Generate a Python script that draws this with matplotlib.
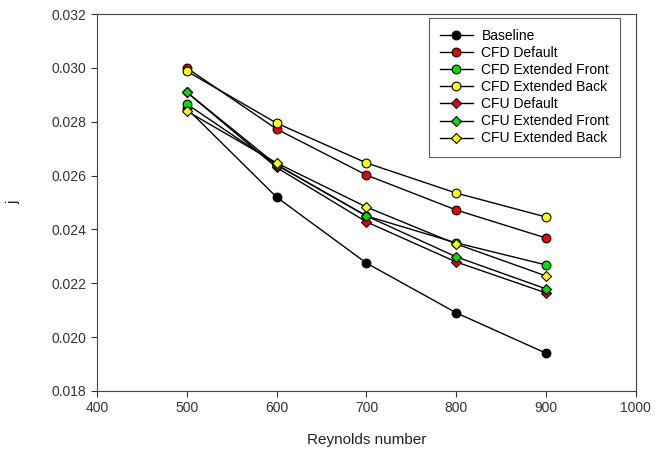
import matplotlib
matplotlib.use("Agg")
import matplotlib.pyplot as plt

plt.rcParams['font.family'] = ['Liberation Sans', 'DejaVu Sans']

reynolds = [500, 600, 700, 800, 900]

baseline = [0.0285, 0.0252, 0.02275, 0.0209, 0.0194]
cfd_default = [0.0300, 0.02773, 0.02602, 0.02472, 0.02368]
cfd_ext_front = [0.02866, 0.0264, 0.0245, 0.0235, 0.02268]
cfd_ext_back = [0.02988, 0.02795, 0.02647, 0.02535, 0.02446]
cfu_default = [0.0291, 0.0263, 0.02428, 0.02279, 0.02164]
cfu_ext_front = [0.0291, 0.0264, 0.0245, 0.02298, 0.02179]
cfu_ext_back = [0.0284, 0.02647, 0.02483, 0.02346, 0.02227]

labels = ["Baseline", "CFD Default", "CFD Extended Front", "CFD Extended Back",
          "CFU Default", "CFU Extended Front", "CFU Extended Back"]
series = [baseline, cfd_default, cfd_ext_front, cfd_ext_back,
          cfu_default, cfu_ext_front, cfu_ext_back]

# styles
colors = ["black", "#e8000b", "#00e000", "#ffff00", "#e8000b", "#00e000", "#ffff00"]
markers = ["o", "o", "o", "o", "D", "D", "D"]
sizes = [6.3, 6.3, 6.3, 6.3, 5.5, 5.5, 5.5]

fig = plt.figure(figsize=(6.68, 4.54), dpi=100)
ax = fig.add_axes([0.145, 0.139, 0.807, 0.830])

for lab, y, c, m, s in zip(labels, series, colors, markers, sizes):
    ax.plot(reynolds, y, color="black", linewidth=1.0, marker=m, markersize=s,
            markerfacecolor=c, markeredgecolor="black", markeredgewidth=0.8, label=lab)

ax.set_xlim(400, 1000)
ax.set_ylim(0.018, 0.032)
ax.set_xticks([400, 500, 600, 700, 800, 900, 1000])
ax.set_yticks([0.018, 0.020, 0.022, 0.024, 0.026, 0.028, 0.030, 0.032])
ax.set_yticklabels(["%.3f" % v for v in ax.get_yticks()])
ax.tick_params(labelsize=10, direction="out", length=4, colors="#333333", labelcolor="#333333")
for sp in ax.spines.values():
    sp.set_color("#444444")

ax.set_xlabel("Reynolds number", fontsize=11, labelpad=13, color="#222222")
ax.set_ylabel("j", fontsize=11, labelpad=22, color="#222222")

leg = ax.legend(loc="upper right", bbox_to_anchor=(0.984, 1.008), fontsize=10,
                frameon=True, fancybox=False, edgecolor="#333333",
                handlelength=2.4, handletextpad=0.6, labelspacing=0.22, borderpad=0.8)
leg.get_frame().set_linewidth(0.8)

fig.savefig("out.png", dpi=100)
